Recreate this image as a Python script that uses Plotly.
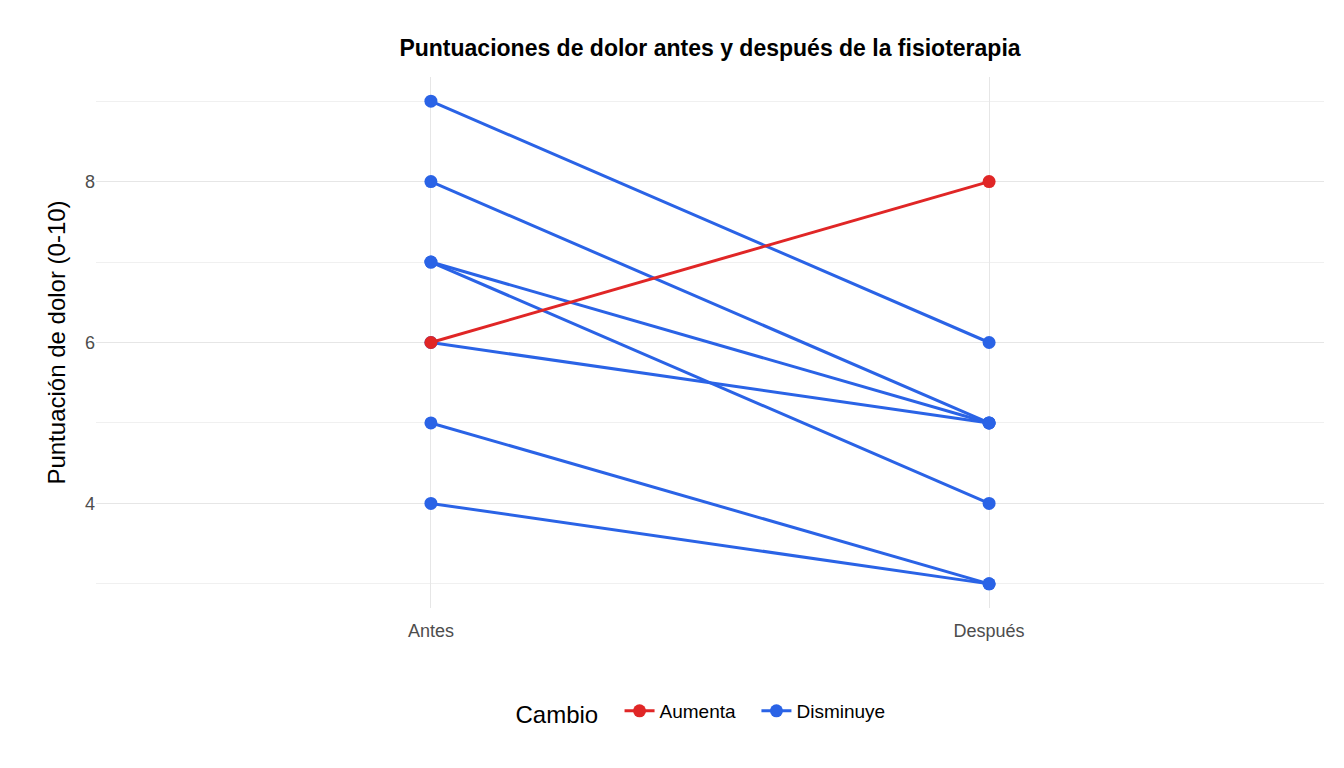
import plotly.graph_objects as go

categories = ["Antes", "Después"]
antes = [9, 8, 7, 7, 6, 6, 5, 4]
despues = [6, 5, 5, 4, 5, 8, 3, 3]
cambio = ["Disminuye", "Disminuye", "Disminuye", "Disminuye", "Disminuye", "Aumenta", "Disminuye", "Disminuye"]
colors = {"Aumenta": "#E02626", "Disminuye": "#2A63E6"}

fig = go.Figure()
shown = set()
for order in ["Disminuye", "Aumenta"]:
    for a, d, c in zip(antes, despues, cambio):
        if c != order:
            continue
        fig.add_trace(go.Scatter(
            x=[0, 1], y=[a, d], mode="lines+markers",
            line=dict(color=colors[c], width=3), marker=dict(size=13, color=colors[c]),
            name=c + "   ", legendgroup=c, showlegend=c not in shown,
            legendrank=1 if c == "Aumenta" else 2))
        shown.add(c)

grid = "#E6E6E6"
fig.update_layout(
    width=1344, height=768, plot_bgcolor="white", paper_bgcolor="white",
    margin=dict(l=88, r=28, t=69, b=168, autoexpand=False),
    font=dict(family="Liberation Sans, Arial", color="#4D4D4D"),
    title=dict(text="<b>Puntuaciones de dolor antes y después de la fisioterapia</b>",
               x=0.5, xref="paper", xanchor="center", y=40/768, yref="container", yanchor="middle",
               font=dict(size=23, color="black")),
    xaxis=dict(range=[-0.6, 1.6], tickvals=[0, 1], ticktext=categories, automargin=False,
               showgrid=True, gridcolor=grid, gridwidth=1.3, zeroline=False,
               tickfont=dict(size=18, color="#4D4D4D"), ticks="", ticklabelstandoff=10),
    yaxis=dict(range=[2.7, 9.3], tickvals=[4, 6, 8], showgrid=True, gridcolor=grid, gridwidth=1.3,
               zeroline=False, tickfont=dict(size=18, color="#4D4D4D"), automargin=False,
               minor=dict(tickvals=[3, 5, 7, 9], showgrid=True, gridcolor="#F0F0F0", gridwidth=1),
               title=dict(text="Puntuación de dolor (0-10)", font=dict(size=24, color="black"), standoff=12)),
    legend=dict(orientation="h", x=0.5, xanchor="center", y=-105/531, yanchor="middle",
                title=dict(text="Cambio  ", font=dict(size=24, color="black")),
                font=dict(size=19, color="black"), traceorder="normal"),
)
fig.layout.title.y = 1 - 40/768
fig.write_html("out.html")
